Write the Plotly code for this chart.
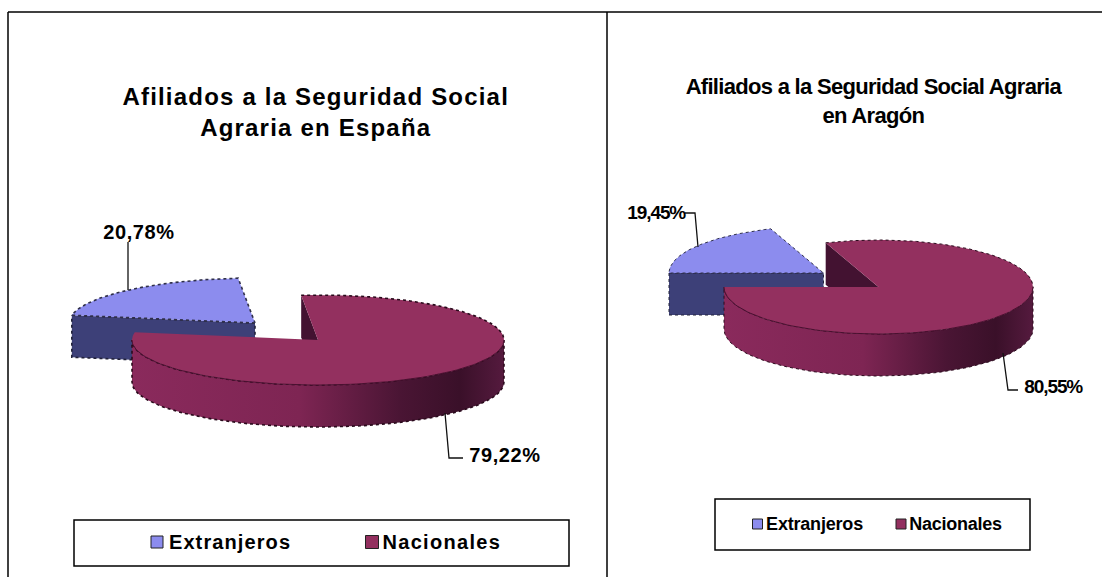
import math
import plotly.graph_objects as go

CATEGORIES = ["Extranjeros", "Nacionales"]
TITLE_ES = "Afiliados a la Seguridad Social<br>Agraria en España"
TITLE_AR = "Afiliados a la Seguridad Social Agraria<br>en Aragón"
VALUES_ES = [20.78, 79.22]
VALUES_AR = [19.45, 80.55]
LABELS_ES = ["20,78%", "79,22%"]
LABELS_AR = ["19,45%", "80,55%"]

BLUE_TOP, BLUE_WALL = "#8c8cee", "#3d4078"
RED_TOP, RED_INNER = "#93305f", "#431231"
RED_SCALE = [[0, "#8a2a5c"], [0.45, "#7e2553"], [0.72, "#4a1534"], [0.88, "#3a1029"], [1, "#551a3e"]]


def pt(c, rx, ry, a, dy=0):
    r = math.radians(a)
    return c[0] + rx * math.sin(r), c[1] - ry * math.cos(r) + dy


def arc(c, rx, ry, a0, a1, dy=0, n=90):
    return [pt(c, rx, ry, a0 + (a1 - a0) * i / n, dy) for i in range(n + 1)]


fig = go.Figure()


def poly(points, color=None, gradient=None, outline=None, width=1, name=""):
    pts = points + [points[0]]
    kw = dict(fillcolor=color) if gradient is None else dict(
        fillgradient=dict(type="horizontal", colorscale=gradient))
    fig.add_trace(go.Scatter(
        x=[p[0] for p in pts], y=[p[1] for p in pts], mode="lines", fill="toself",
        line=dict(color=outline or "rgba(0,0,0,0)", width=width, dash="dot"),
        hoverinfo="skip", showlegend=False, name=name, **kw))


def pie3d(values, first_angle, center, offset, rx, ry, depth, edge):
    total = sum(values)
    a0 = first_angle
    a1 = a0 + 360 * values[0] / total
    a2 = first_angle + 360
    ce = (center[0] + offset[0], center[1] + offset[1])
    e = pt(ce, rx, ry, a0)
    poly([e, ce, (ce[0], ce[1] + depth), (e[0], e[1] + depth)], BLUE_WALL,
         outline="#22223a", width=edge, name=CATEGORIES[0])
    poly([ce] + arc(ce, rx, ry, a0, a1), BLUE_TOP, outline="#30304a", width=edge, name=CATEGORIES[0])
    s = pt(center, rx, ry, a1 % 360)
    poly([s, center, (center[0], center[1] + depth), (s[0], s[1] + depth)], RED_INNER, name=CATEGORIES[1])
    top = arc(center, rx, ry, 90, 270)
    bottom = arc(center, rx, ry, 270, 90, depth)
    poly(top + bottom, gradient=RED_SCALE, outline="#2a0a1c", width=edge, name=CATEGORIES[1])
    poly([center] + arc(center, rx, ry, a1, a2, n=180), RED_TOP, name=CATEGORIES[1])
    fig.add_trace(go.Scatter(
        x=[p[0] for p in arc(center, rx, ry, 90, 270)],
        y=[p[1] for p in arc(center, rx, ry, 90, 270)], mode="lines",
        line=dict(color="#4a1030", width=1), hoverinfo="skip", showlegend=False))
    fig.add_trace(go.Scatter(
        x=[p[0] for p in arc(center, rx, ry, a1, 450)],
        y=[p[1] for p in arc(center, rx, ry, a1, 450)], mode="lines",
        line=dict(color="#2a0a1c", width=edge, dash="dot"), hoverinfo="skip", showlegend=False))


pie3d(VALUES_ES, 280, (318, 340), (-63, -17), 186, 45, 42, 1.6)
pie3d(VALUES_AR, 270, (878.5, 287), (-55, -14), 154.5, 47, 42, 1)

for xs, ys in [([128, 128], [242, 290]), ([445, 449, 463], [413, 458, 458]),
               ([685, 695, 698], [213, 213, 247]), ([1003, 1008, 1018], [353, 390, 390])]:
    fig.add_trace(go.Scatter(x=xs, y=ys, mode="lines", line=dict(color="#111", width=1.3),
                             hoverinfo="skip", showlegend=False))

for x, y, c, s in [(157, 542, BLUE_TOP, 12), (372, 542, RED_TOP, 13), (757.5, 524, BLUE_TOP, 10), (901, 524, RED_TOP, 10)]:
    fig.add_trace(go.Scatter(x=[x], y=[y], mode="markers", hoverinfo="skip", showlegend=False,
                             marker=dict(symbol="square", size=s, color=c, line=dict(color="#222", width=1))))

line = dict(color="#000", width=1.5)
shapes = [
    dict(type="line", x0=8, x1=607, y0=12, y1=12, line=line),
    dict(type="line", x0=8, x1=8, y0=12, y1=577, line=line),
    dict(type="line", x0=607, x1=1102, y0=12, y1=12, line=line),
    dict(type="line", x0=607, x1=607, y0=12, y1=577, line=line),
    dict(type="rect", x0=74, x1=569, y0=520, y1=566, line=line, fillcolor="rgba(255,255,255,0)"),
    dict(type="rect", x0=715, x1=1030, y0=499, y1=550, line=line, fillcolor="rgba(255,255,255,0)"),
]
for s in shapes:
    s.update(xref="x", yref="y")

F = "Liberation Sans, Arial, sans-serif"
spacing = []


def note(x, y, text, size, ls=0):
    spacing.append(ls)
    fig.add_annotation(x=x, y=y, xref="x", yref="y", text=f"<b>{text}</b>", showarrow=False,
                       xanchor="center", yanchor="middle", align="center",
                       font=dict(family=F, size=size, color="#000"))


note(315, 112, TITLE_ES, 24, 1.2)
note(873.5, 101, TITLE_AR, 22, -0.7)
note(139, 232, LABELS_ES[0], 20, 0.6)
note(505, 455, LABELS_ES[1], 20, 0.6)
note(656, 212, LABELS_AR[0], 19, -1.1)
note(1053, 386, LABELS_AR[1], 19, -1.1)
note(229.5, 542, CATEGORIES[0], 20, 1.1)
note(441.5, 542, CATEGORIES[1], 20, 1.3)
note(814.5, 524, CATEGORIES[0], 18, -0.2)
note(955, 524, CATEGORIES[1], 18, -0.25)

fig.update_layout(
    width=1102, height=577, autosize=False, margin=dict(l=0, r=0, t=0, b=0),
    paper_bgcolor="#fff", plot_bgcolor="#fff", shapes=shapes, showlegend=False,
    xaxis=dict(range=[0, 1102], visible=False, fixedrange=True),
    yaxis=dict(range=[577, 0], visible=False, fixedrange=True),
)
post = (
    "document.body.style.margin='0';"
    "var ls=" + str(spacing) + ";"
    "document.querySelectorAll('.annotation-text').forEach(function(t,i){"
    "t.style.letterSpacing=ls[i]+'px';});"
)
fig.write_html("out.html", config=dict(displayModeBar=False), post_script=post)
